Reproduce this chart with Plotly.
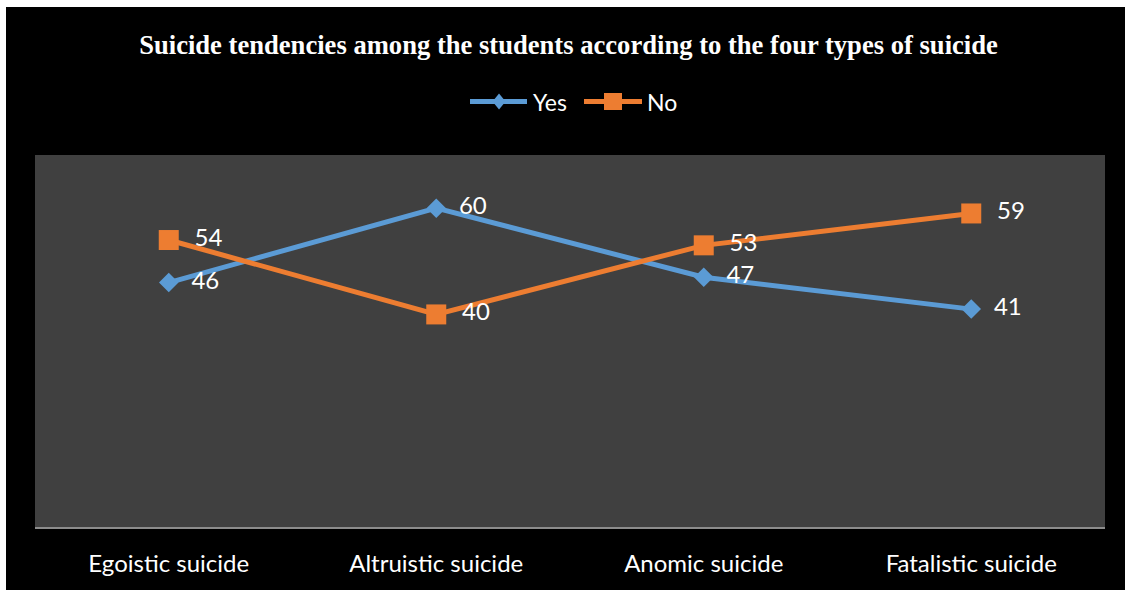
import plotly.graph_objects as go

categories = ["Egoistic suicide", "Altruistic suicide", "Anomic suicide", "Fatalistic suicide"]
yes_values = [46, 60, 47, 41]
no_values = [54, 40, 53, 59]
series_names = ["Yes", "No"]
series_colors = ["#5B9BD5", "#ED7D31"]

W, H = 1125, 590
L, R, T, B = 35, 20, 155, 63
pw, ph = W - L - R, H - T - B

def px_x(px):
    return (px - L) / pw

def px_y(py):
    return (H - B - py) / ph

label_font = dict(family="Lato", size=24, color="white")

fig = go.Figure()
fig.add_trace(go.Scatter(
    x=categories, y=yes_values, name=series_names[0], mode="lines+markers+text",
    line=dict(color=series_colors[0], width=5),
    marker=dict(symbol="diamond", size=15, color=series_colors[0]),
    text=["  " + str(v) for v in yes_values], textposition="middle right",
    textfont=label_font, showlegend=False,
))
fig.add_trace(go.Scatter(
    x=categories, y=no_values, name=series_names[1], mode="lines+markers+text",
    line=dict(color=series_colors[1], width=5),
    marker=dict(symbol="square", size=20, color=series_colors[1]),
    text=["  " + str(v) for v in no_values], textposition="middle right",
    textfont=label_font, showlegend=False,
))

# custom legend (longer line symbols, as in the reference)
leg_y = 101.5
legend_items = [
    # (line start, line end, marker center, text start)
    (470, 527, 499, 531),
    (584, 642, 613, 645),
]
shapes = [
    dict(type="rect", xref="paper", yref="paper", x0=-0.05, x1=1.05,
         y0=px_y(7), y1=1.5, fillcolor="white", line=dict(width=0), layer="above"),
    dict(type="rect", xref="paper", yref="paper", x0=-0.05, x1=px_x(6),
         y0=-0.3, y1=1.5, fillcolor="white", line=dict(width=0), layer="above"),
]
annotations = []
for i, (x0, x1, xm, xt) in enumerate(legend_items):
    c = series_colors[i]
    shapes.append(dict(type="line", xref="paper", yref="paper",
                       x0=px_x(x0), x1=px_x(x1), y0=px_y(leg_y), y1=px_y(leg_y),
                       line=dict(color=c, width=5), layer="above"))
    if i == 0:
        shapes.append(dict(type="path", xref="paper", yref="paper",
                           xsizemode="pixel", ysizemode="pixel",
                           xanchor=px_x(xm), yanchor=px_y(leg_y),
                           path="M 0,8 L 6.5,0 L 0,-8 L -6.5,0 Z",
                           fillcolor=c, line=dict(width=0), layer="above"))
    else:
        shapes.append(dict(type="rect", xref="paper", yref="paper",
                           xsizemode="pixel", ysizemode="pixel",
                           xanchor=px_x(xm), yanchor=px_y(leg_y),
                           x0=-9, x1=9, y0=-8.5, y1=8.5,
                           fillcolor=c, line=dict(width=0), layer="above"))
    annotations.append(dict(xref="paper", yref="paper", x=px_x(xt), y=px_y(leg_y),
                            xanchor="left", yanchor="middle", showarrow=False,
                            text=series_names[i],
                            font=dict(family="Lato", size=23, color="white")))

fig.update_layout(
    width=W, height=H,
    margin=dict(l=L, r=R, t=T, b=B),
    paper_bgcolor="black",
    plot_bgcolor="#404040",
    showlegend=False,
    title=dict(
        text="<b>Suicide tendencies among the students according to the four types of suicide</b>",
        font=dict(family="Liberation Serif", size=26.6, color="white"),
        x=568.5 / W, xanchor="center", y=1 - 45 / H, yanchor="middle",
    ),
    xaxis=dict(
        range=[-0.5, 3.5], showgrid=False, zeroline=False,
        showline=True, linecolor="#8c8c8c", linewidth=1.5,
        ticks="outside", ticklen=14, tickcolor="rgba(0,0,0,0)",
        tickfont=dict(family="Lato", size=24, color="white"),
    ),
    yaxis=dict(
        range=[0, 70], showgrid=False, zeroline=False,
        showticklabels=False, showline=False,
    ),
    shapes=shapes,
    annotations=annotations,
)

fig.write_html(
    "out.html",
    config={"displayModeBar": False},
    post_script="document.body.style.margin='0';document.body.style.overflow='hidden';",
)
